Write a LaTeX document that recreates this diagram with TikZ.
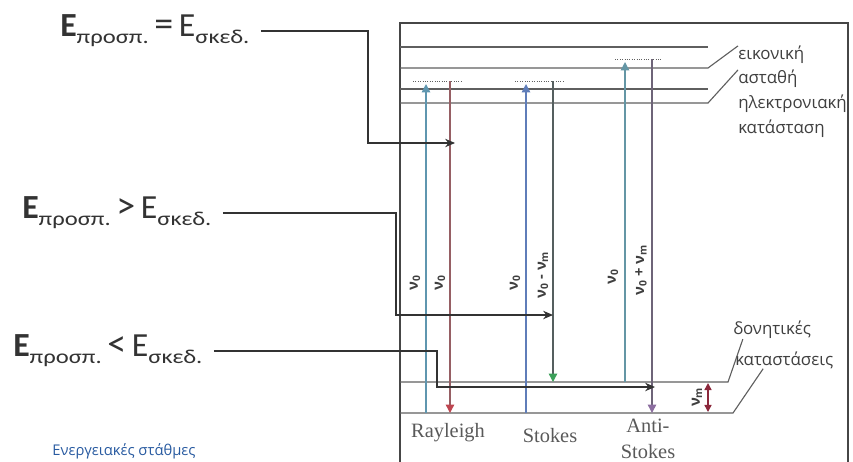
\documentclass[tikz,border=0pt]{standalone}
\usepackage{fontspec}
\setmainfont{Liberation Serif}
\newfontfamily\eqfont{Carlito}
\newfontfamily\grfont{Open Sans}
\usepackage{xcolor}
\definecolor{framegray}{RGB}{70,70,70}
\definecolor{lvlgray}{RGB}{95,95,95}
\definecolor{rayup}{RGB}{95,150,175}
\definecolor{stkup}{RGB}{95,125,185}
\definecolor{asup}{RGB}{100,150,165}
\definecolor{raydn}{RGB}{150,95,100}
\definecolor{raytip}{RGB}{190,70,80}
\definecolor{stkdn}{RGB}{85,95,95}
\definecolor{stktip}{RGB}{60,160,90}
\definecolor{asdn}{RGB}{110,100,120}
\definecolor{astip}{RGB}{140,110,160}
\definecolor{nured}{RGB}{140,40,60}
\definecolor{capblue}{RGB}{40,90,160}
\usetikzlibrary{arrows.meta,positioning}

\newcommand{\Esub}[1]{\raisebox{-0.45ex}{\scalebox{1.25}[1]{\fontsize{14}{16}\selectfont #1}}}
\newcommand{\Elbl}[1]{\eqfont\fontsize{24}{26}\selectfont
  \textbf{E}\Esub{προσπ.}\,{\fontsize{27}{28}\selectfont #1}\,E\Esub{σκεδ.}}

\begin{document}
\begin{tikzpicture}[x=0.025cm, y=-0.025cm,
  lvl/.style={draw=lvlgray, line width=0.8pt},
  virt/.style={draw=lvlgray, densely dotted, line width=0.7pt},
  uparr/.style={-{Triangle[length=6pt,width=6pt]}, line width=1pt, draw=#1},
  dnarr/.style={-{Triangle[length=6pt,width=6pt,color=#1]}, line width=1pt},
  conn/.style={-{Stealth[length=7pt,width=6pt]}, line width=0.9pt, draw=black!80, shorten <=8pt},
  eqlbl/.style={anchor=west, inner sep=0pt, text=black!80},
  grlbl/.style={font=\grfont\fontsize{12}{14}\selectfont, anchor=west, inner sep=0pt, text=black!75},
  nulbl/.style={font=\grfont\bfseries\fontsize{10.5}{12}\selectfont, rotate=90, inner sep=0pt, text=black!75},
  spec/.style={font=\fontsize{14.5}{18.5}\selectfont, text=black!65, align=center}
]
\useasboundingbox (0,0) rectangle (853,461);

% Frame
\draw[line width=1.2pt, draw=framegray] (400,470) -- (400,23) -- (848,23) -- (848,470);

% Labels on the right
\node[grlbl] (eik)  at (738,55)  {εικονική};
\node[grlbl] (ast)  at (738,79)  {ασταθή};
\node[grlbl] (ilek) at (738,104) {ηλεκτρονιακή};
\node[grlbl] (kat)  at (738,129) {κατάσταση};
\node[grlbl] (don)  at (733,330) {δονητικές};
\node[grlbl] (katv) at (735,360) {καταστάσεις};

% Electronic levels
\draw[lvl] (400,47) -- (708,47);
\draw[lvl] (400,68) -- (708,68) -- (eik.north west);
\draw[lvl] (400,89) -- (708,89);
\draw[lvl] (400,103) -- (708,103) -- (ast.north west);

% Vibrational levels
\draw[lvl] (400,382) -- (728,382) -- ([xshift=7pt]don.south west);
\draw[lvl] (400,413) -- (733,413) -- ([xshift=20pt]katv.south west);

% Virtual states
\draw[virt] (413,81) -- (463,81);
\draw[virt] (515,81) -- (565,81);
\draw[virt] (615,59) -- (662,59);

% Rayleigh
\draw[uparr=rayup] (426,413) -- (426,84);
\draw[dnarr=raytip, draw=raydn] (450,81) -- (450,413);
% Stokes
\draw[uparr=stkup] (526,413) -- (526,84);
\draw[dnarr=stktip, draw=stkdn] (553,81) -- (553,382);
% Anti-Stokes
\draw[uparr=asup] (625,382) -- (625,62);
\draw[dnarr=astip, draw=asdn] (652,59) -- (652,413);

% Frequencies
\node[nulbl] (nu1) at (415,283) {ν\textsubscript{0}};
\node[nulbl] (nu2) at (440,283) {ν\textsubscript{0}};
\node[nulbl] (nu3) at (515,283) {ν\textsubscript{0}};
\node[nulbl] (nu4) at (543,275) {ν\textsubscript{0} - ν\textsubscript{m}};
\node[nulbl] (nu5) at (613,277) {ν\textsubscript{0}};
\node[nulbl] (nu6) at (641,270) {ν\textsubscript{0} + ν\textsubscript{m}};

% Vibrational spacing
\draw[{Triangle[length=5pt,width=5pt]}-{Triangle[length=5pt,width=5pt]}, draw=nured, line width=1pt] (708,383) -- (708,412);
\node[nulbl] (num) at (697,397) {ν\textsubscript{m}};

% Scattering names
\node[spec] (ray) at (448,433) {Rayleigh};
\node[spec] (stk) at (550,436) {Stokes};
\node[spec] (ans) at (648,439) {Anti-\\Stokes};

% Energy conditions
\node[eqlbl] (eqeq) at (60,31)  {\Elbl{=}};
\node[eqlbl] (eqgt) at (22,213) {\Elbl{>}};
\node[eqlbl] (eqlt) at (13,351) {\Elbl{<}};

\coordinate (eqeq-bend) at (368,143);
\coordinate (eqeq-tip)  at (455,143);
\coordinate (eqgt-bend) at (396,315);
\coordinate (eqgt-tip)  at (553,315);
\coordinate (eqlt-bend) at (437,387);
\coordinate (eqlt-tip)  at (655,387);

\draw[conn] (eqeq.east) -| (eqeq-bend) -- (eqeq-tip);
\draw[conn] (eqgt.east) -| (eqgt-bend) -- (eqgt-tip);
\draw[conn] (eqlt.east) -| (eqlt-bend) -- (eqlt-tip);

% Caption
\node[font=\grfont\fontsize{10.5}{12}\selectfont, text=capblue] (cap) at (124,451) {Ενεργειακές στάθμες};
\end{tikzpicture}
\end{document}
